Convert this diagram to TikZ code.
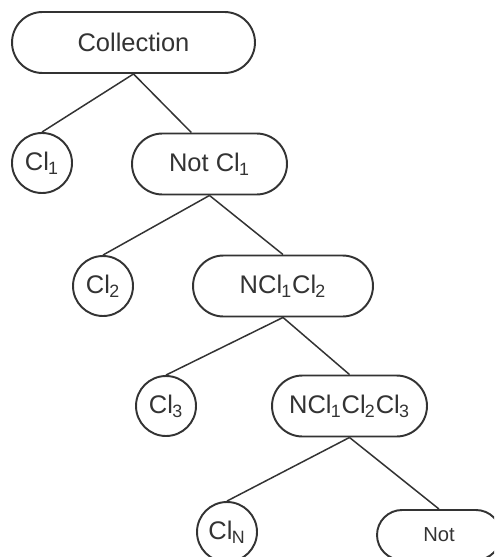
\documentclass[tikz,border=0pt]{standalone}
\usepackage{fontspec}
\setmainfont{Liberation Sans}
\usetikzlibrary{shapes.misc}

\definecolor{ink}{HTML}{333333}

\newcommand{\cl}[1]{Cl\kern-0.03em\textsubscript{#1}}

\tikzset{
  leaf/.style={draw=ink, line width=1.1pt, circle, minimum size=1.2cm,
    inner sep=0pt, text=ink, font=\fontsize{14.5}{16}\selectfont},
  rest/.style={draw=ink, line width=1.1pt, rounded rectangle,
    minimum height=1.22cm, inner sep=0pt, text=ink,
    font=\fontsize{14.5}{16}\selectfont},
  link/.style={draw=ink, line width=0.85pt}
}

\begin{document}
\begin{tikzpicture}[x=0.02cm, y=-0.02cm]
\clip (0,0) rectangle (494,557);

\node[rest, minimum width=4.86cm] (coll) at (133.5,42.5) {Collection};

\node[leaf] (c1) at (42,163) {\cl{1}};
\node[rest, minimum width=3.1cm] (n1) at (209.5,164) {Not \cl{1}};

\node[leaf] (c2) at (103,286) {\cl{2}};
\node[rest, minimum width=3.6cm] (n2) at (283,286) {N\cl{1}\cl{2}};

\node[leaf] (c3) at (166,406) {\cl{3}};
\node[rest, minimum width=3.1cm] (n3) at (349.5,406) {N\cl{1}\cl{2}\cl{3}};

\node[leaf] (cn) at (227,532) {\cl{N}};
\node[rest, minimum width=2.48cm, minimum height=1.0cm,
  font=\fontsize{11.5}{13}\selectfont] (nt) at (439,535) {Not};

\draw[link] (coll.south) -- (c1.north);
\draw[link] (coll.south) -- (n1.120);

\draw[link] (n1.south) -- (c2.north);
\draw[link] (n1.south) -- (n2.north);

\draw[link] (n2.south) -- (c3.north);
\draw[link] (n2.south) -- (n3.north);

\draw[link] (n3.south) -- (cn.north);
\draw[link] (n3.south) -- (nt.north);

\end{tikzpicture}
\end{document}
